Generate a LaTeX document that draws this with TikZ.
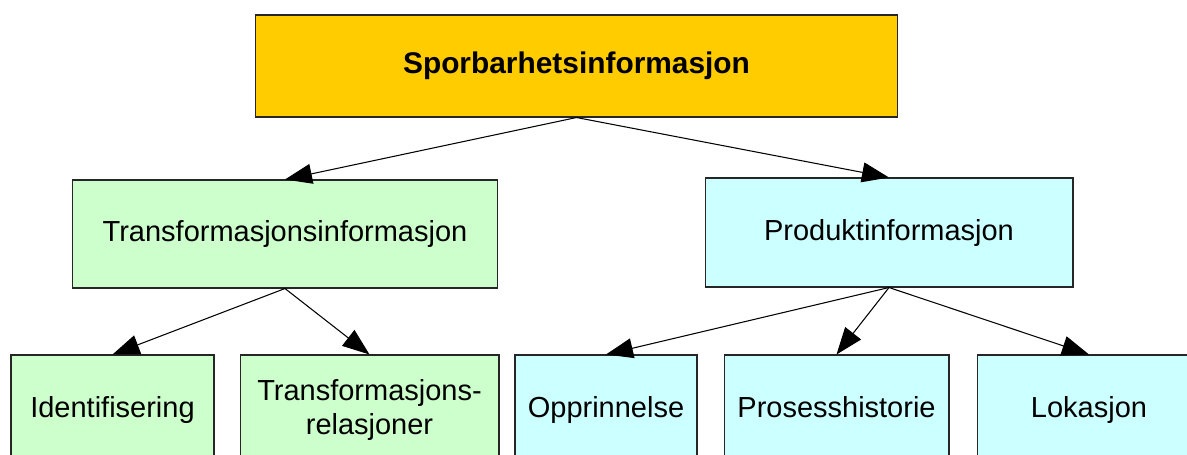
\documentclass[tikz,border=0pt]{standalone}
\usepackage{fontspec}
\setmainfont{Liberation Sans}
\usepackage{tikz}
\usetikzlibrary{arrows.meta,positioning}
\definecolor{gull}{HTML}{FFCC00}
\definecolor{lysgronn}{HTML}{CCFFCC}
\definecolor{lysbla}{HTML}{CCFFFF}

\begin{document}
\begin{tikzpicture}[
		x=0.02cm, y=-0.02cm,
		boks/.style={rectangle, draw=black!85, line width=0.6pt, align=center, inner sep=0pt, font=\fontsize{16.5}{19.5}\selectfont},
		toppboks/.style={boks, fill=gull, font=\fontsize{17}{20}\selectfont\bfseries},
		gronn/.style={boks, fill=lysgronn},
		bla/.style={boks, fill=lysbla},
		pil/.style={-{Triangle[length=0.54cm, width=0.4cm]}, line width=0.6pt},
		]
		\clip (0,0) rectangle (1187,454);
	
		% Sporbarhetsinformasjon og undergrupper
		\node[toppboks, minimum width=12.86cm, minimum height=2.04cm] (Spor) at (576.5, 66) {Sporbarhetsinformasjon};
		\node[gronn, minimum width=8.52cm, minimum height=2.16cm] (Trans) at (285, 234) {Transformasjonsinformasjon};
		\node[bla, minimum width=7.36cm, minimum height=2.18cm] (Prod) at (889, 232.5) {Produktinformasjon};
		\node[gronn, minimum width=4.06cm, minimum height=2.2cm] (Ident) at (112.5, 410) {Identifisering};
		\node[gronn, minimum width=5.18cm, minimum height=2.2cm] (Rel) at (369.5, 410) {Transformasjons-\\relasjoner};
		\node[bla, minimum width=3.64cm, minimum height=2.2cm] (Oppr) at (606, 410) {Opprinnelse};
		\node[bla, minimum width=4.5cm, minimum height=2.2cm] (Pros) at (836.5, 410) {Prosesshistorie\vphantom{g}};
		\node[bla, minimum width=4.48cm, minimum height=2.2cm] (Lok) at (1089, 410) {Lokasjon};
	
		\draw[pil] (Spor.south) -- (Trans.north);
		\draw[pil] (Spor.south) -- (Prod.north);
		\draw[pil] (Trans.south) -- (Ident.north);
		\draw[pil] (Trans.south) -- (Rel.north);
		\draw[pil] (Prod.south) -- (Oppr.north);
		\draw[pil] (Prod.south) -- (Pros.north);
		\draw[pil] (Prod.south) -- (Lok.north);
	\end{tikzpicture}
\end{document}
